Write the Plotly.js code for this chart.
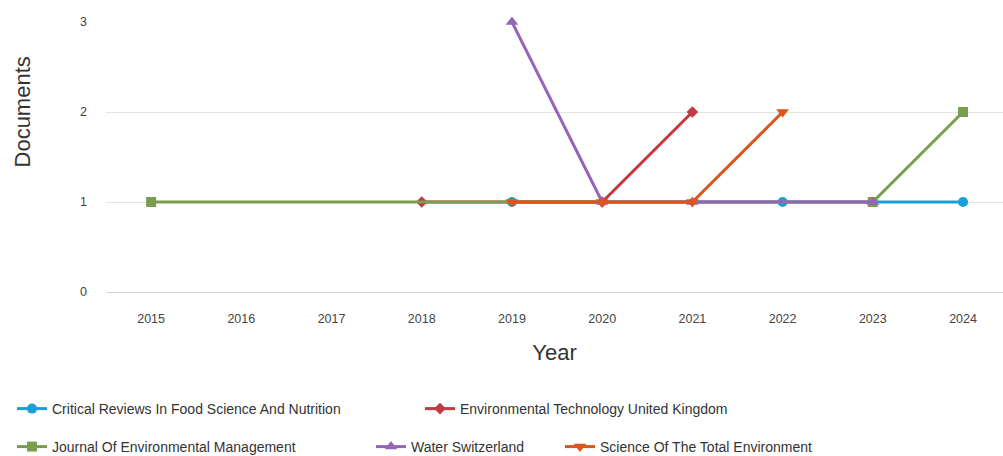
<!DOCTYPE html>
<html>
<head>
<meta charset="utf-8">
<script src="https://cdn.plot.ly/plotly-3.0.1.min.js"></script>
<style>html,body{margin:0;padding:0;background:#fff;}#chart{width:1003px;height:456px;}</style>
</head>
<body>
<div id="chart"></div>
<script>
const seriesNames = [
  "Critical Reviews In Food Science And Nutrition",
  "Environmental Technology United Kingdom",
  "Journal Of Environmental Management",
  "Water Switzerland",
  "Science Of The Total Environment"
];
const criticalYears = [2019, 2022, 2023, 2024];
const criticalDocs  = [1, 1, 1, 1];
const envTechYears  = [2018, 2020, 2021];
const envTechDocs   = [1, 1, 2];
const jemYears      = [2015, 2023, 2024];
const jemDocs       = [1, 1, 2];
const waterYears    = [2019, 2020, 2021, 2023];
const waterDocs     = [3, 1, 1, 1];
const scitotYears   = [2019, 2020, 2021, 2022];
const scitotDocs    = [1, 1, 1, 2];
const yearTicks = [2015, 2016, 2017, 2018, 2019, 2020, 2021, 2022, 2023, 2024];
const docTicks = [0, 1, 2, 3];

const colors = ["#1a9fd6", "#c4393f", "#799e4f", "#9566b8", "#dd5518"];
const symbols = ["circle", "diamond", "square", "triangle-up", "triangle-down"];
const xs = [criticalYears, envTechYears, jemYears, waterYears, scitotYears];
const ys = [criticalDocs, envTechDocs, jemDocs, waterDocs, scitotDocs];
const legendIds = ["legend", "legend2", "legend3", "legend4", "legend5"];
const sizes = [10, 9, 10, 11, 11];

const traces = seriesNames.map((n, i) => ({
  type: "scatter",
  mode: "lines+markers",
  name: n,
  x: xs[i],
  y: ys[i],
  line: {color: colors[i], width: 3},
  marker: {color: colors[i], symbol: symbols[i], size: sizes[i]},
  cliponaxis: false,
  legend: legendIds[i]
}));

const W = 1003, H = 456;
function leg(px, pyCenter) {
  return {
    xref: "container", yref: "container",
    x: px / W, y: (H - pyCenter) / H,
    xanchor: "left", yanchor: "middle",
    orientation: "h",
    bgcolor: "rgba(0,0,0,0)",
    font: {family: "Liberation Sans, Arial, sans-serif", size: 14, color: "#333333"},
    itemwidth: 30,
    tracegroupgap: 0
  };
}

const layout = {
  width: W, height: H,
  margin: {l: 106, r: 0, t: 22, b: 164},
  paper_bgcolor: "#ffffff",
  plot_bgcolor: "#ffffff",
  font: {family: "Liberation Sans, Arial, sans-serif", color: "#333333"},
  showlegend: true,
  xaxis: {
    range: [2014.5, 2024.443],
    tickvals: yearTicks,
    ticktext: yearTicks.map(String),
    showgrid: false,
    zeroline: false,
    showline: false,
    ticks: "",
    ticklabelstandoff: 17,
    tickfont: {size: 12.5, color: "#444444"},
    title: {text: "Year", font: {size: 22, color: "#333333"}, standoff: 20},
    fixedrange: true
  },
  yaxis: {
    range: [0, 3],
    tickvals: docTicks,
    showgrid: true,
    gridcolor: "#e3e3e3",
    gridwidth: 1,
    zeroline: true,
    zerolinecolor: "#ccd6eb",
    zerolinewidth: 1,
    showline: false,
    ticks: "",
    ticklabelstandoff: 18,
    tickfont: {size: 12.5, color: "#444444"},
    fixedrange: true
  },
  annotations: [{
    text: "Documents",
    xref: "paper", yref: "paper",
    x: -0.093, y: 0.667,
    xanchor: "center", yanchor: "middle",
    textangle: -90,
    showarrow: false,
    font: {size: 22, color: "#333333"}
  }],
  legend:  leg(12, 409),
  legend2: leg(420, 409),
  legend3: leg(12, 447),
  legend4: leg(371, 447),
  legend5: leg(560, 447)
};

Plotly.newPlot("chart", traces, layout, {displayModeBar: false, staticPlot: true});
</script>
</body>
</html>
